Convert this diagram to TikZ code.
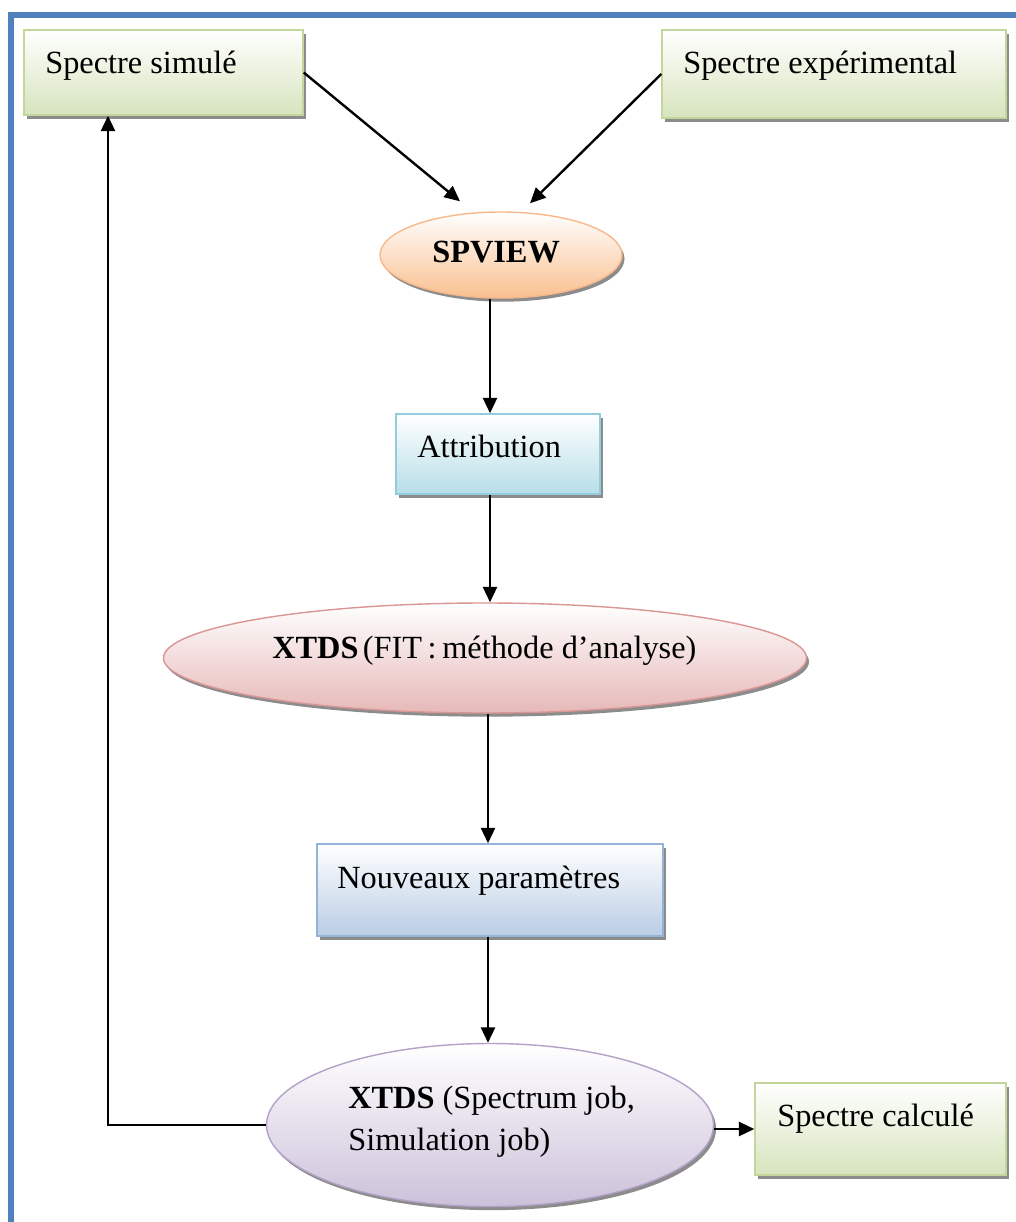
\documentclass[tikz,border=0pt]{standalone}
\usepackage{fontspec}
\setmainfont{Liberation Serif}
\usetikzlibrary{arrows.meta,shapes.geometric,shadows}
\definecolor{framecol}{HTML}{4F81BD}
\definecolor{gbd}{HTML}{C3D69B}\definecolor{gbt}{HTML}{D7E4BD}
\definecolor{obd}{HTML}{F9B88A}\definecolor{obt}{HTML}{FAC090}\definecolor{otp}{HTML}{FDF2EA}
\definecolor{cbd}{HTML}{93CDDD}\definecolor{cbt}{HTML}{B7DEE8}
\definecolor{rbd}{HTML}{D99694}\definecolor{rbt}{HTML}{E6B9B8}
\definecolor{bbd}{HTML}{95B3D7}\definecolor{bbt}{HTML}{B9CDE5}
\definecolor{vbd}{HTML}{B3A2C7}\definecolor{vbt}{HTML}{CCC1DA}
\tikzset{
  shad/.style={drop shadow={shadow xshift=1.8pt,shadow yshift=-2.6pt,opacity=0.45,fill=black}},
  rbox/.style={rectangle, draw=#1bd, line width=1pt, top color=white, bottom color=#1bt, shad, inner sep=0pt},
  ebox/.style={ellipse, draw=#1bd, line width=1pt, top color=white, bottom color=#1bt, shad, inner sep=0pt},
  txt/.style={font=\fontsize{23}{28}\selectfont, inner sep=0pt, anchor=base west},
  arr/.style={line width=1.7pt, draw=black, -{Triangle[length=11pt,width=10pt]}}
}
\begin{document}
\begin{tikzpicture}[x=0.025cm,y=-0.025cm]
\useasboundingbox (0,0) rectangle (1016,1222);
% frame
\draw[framecol, line width=4.5pt] (11,1240) -- (11,15) -- (1040,15);
% nodes
\node[rbox=g, minimum width=279*0.025cm, minimum height=85*0.025cm] (b1) at (163.5,72.5) {};
\node[rbox=g, minimum width=344*0.025cm, minimum height=88*0.025cm] (b2) at (834,74) {};
\node[ebox=o, minimum width=242*0.025cm, minimum height=86*0.025cm] (sp) at (501,255) {};
\node[rbox=c, minimum width=204*0.025cm, minimum height=80*0.025cm] (att) at (498,454) {};
\node[ebox=r, minimum width=643*0.025cm, minimum height=110*0.025cm] (x1) at (485,658) {};
\node[rbox=b, minimum width=346*0.025cm, minimum height=92*0.025cm] (np) at (490,890) {};
\node[ebox=v, minimum width=447*0.025cm, minimum height=163*0.025cm] (x2) at (490,1125) {};
\node[rbox=g, minimum width=251*0.025cm, minimum height=92*0.025cm] (calc) at (880.5,1129) {};
% texts
\node[txt] (t1) at (45,73) {Spectre simulé};
\node[txt] (t2) at (683,73) {Spectre expérimental};
\node[txt] (t3) at (432,262) {\textbf{SPVIEW}};
\node[txt] (t4) at (417,457) {Attribution};
\node[txt] (t5) at (272,658) {\textbf{XTDS}\hspace{3pt}(FIT\hspace{4pt}:\hspace{4pt}méthode d’analyse)};
\node[txt] (t6) at (337,888) {Nouveaux paramètres};
\node[txt] (t7) at (348,1108) {\textbf{XTDS} (Spectrum job,};
\node[txt] (t8) at (348,1150) {Simulation job)};
\node[txt] (t9) at (777,1126) {Spectre calculé};
% axis for vertical connectors
\coordinate (ax) at (490,0);
\coordinate (ax2) at (488,0);
% connectors
\draw[arr] (b1.east) -- ([xshift=-1.025cm,yshift=0.25cm]sp.north);
\draw[arr] (b2.west) -- ([xshift=0.725cm,yshift=0.2cm]sp.north);
\draw[arr] (ax |- sp.south) -- (ax |- att.north);
\draw[arr] (ax |- att.south) -- (ax |- x1.north);
\draw[arr] (ax2 |- x1.south) -- (ax2 |- np.north);
\draw[arr] (ax2 |- np.south) -- (ax2 |- x2.north);
\draw[arr] (x2.west) -| ([xshift=-1.3875cm]b1.south);
\draw[arr] (calc.west -| x2.east) -- (calc.west);
\end{tikzpicture}
\end{document}
